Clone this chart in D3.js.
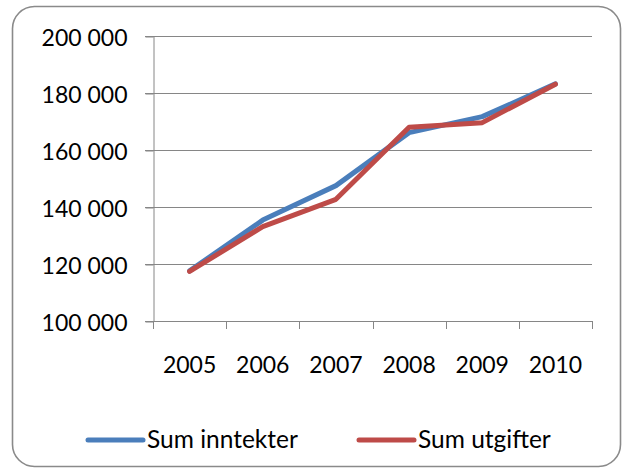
<!DOCTYPE html>
<html>
<head>
<meta charset="utf-8">
<script src="https://cdn.jsdelivr.net/npm/d3@7"></script>
<style>
  html, body { margin: 0; padding: 0; background: #fff; }
  svg { display: block; font-family: Lato, "Open Sans", sans-serif; }
</style>
</head>
<body>
<script>
const [w, h] = [627, 468];

// data
const years = ['2005', '2006', '2007', '2008', '2009', '2010'];
const inntekter = [117600, 135400, 147500, 166100, 171700, 183200];
const utgifter = [117400, 133100, 142700, 168000, 169600, 183100];
const yTicks = [100000, 120000, 140000, 160000, 180000, 200000];
const seriesNames = ['Sum inntekter', 'Sum utgifter'];
const seriesColors = ['#4a7ebb', '#be4b48'];

const plot = { left: 153, right: 592, top: 36, bottom: 321 };
const gridColor = '#868686';

const svg = d3.select('body').append('svg')
  .attr('width', w)
  .attr('height', h);

// chart frame
svg.append('rect')
  .attr('x', 12.5).attr('y', 6.5)
  .attr('width', 608).attr('height', 460)
  .attr('rx', 22).attr('ry', 22)
  .attr('fill', 'white')
  .attr('stroke', '#8a8a8a')
  .attr('stroke-width', 1.6);

const x = d3.scaleBand().domain(years).range([plot.left, plot.right]);
const y = d3.scaleLinear().domain([100000, 200000]).range([plot.bottom, plot.top]);

const fmt = d3.formatLocale({ decimal: ',', thousands: ' ', grouping: [3], currency: ['', ''] }).format(',d');

// horizontal gridlines
svg.append('g').selectAll('line')
  .data(yTicks)
  .enter().append('line')
  .attr('x1', plot.left - 8).attr('x2', plot.right)
  .attr('y1', d => Math.round(y(d)) + 0.5).attr('y2', d => Math.round(y(d)) + 0.5)
  .attr('stroke', gridColor).attr('stroke-width', 1);

// y axis
const yAxis = svg.append('g')
  .attr('transform', `translate(${plot.left + 0.5},0.5)`)
  .call(d3.axisLeft(y).tickValues(yTicks).tickFormat(fmt).tickSize(8).tickSizeOuter(0).tickPadding(18));
yAxis.select('.domain').attr('stroke', gridColor);
yAxis.selectAll('.tick line').attr('stroke', gridColor);
yAxis.selectAll('text')
  .attr('font-size', 23)
  .attr('fill', '#000')
  .attr('dy', '0.38em')
  .style('font-family', 'Lato, sans-serif');

// x axis: ticks sit between the categories
const xEdges = years.map(d => x(d)).concat([x.range()[1]]);
const xAxis = svg.append('g')
  .attr('transform', `translate(0,${plot.bottom + 0.5})`)
  .call(d3.axisBottom(x).tickSize(0).tickPadding(0));
xAxis.select('.domain').remove();
xAxis.selectAll('text')
  .attr('font-size', 23)
  .attr('fill', '#000')
  .attr('y', 51)
  .attr('dy', 0)
  .style('font-family', 'Lato, sans-serif');
svg.append('g').selectAll('line')
  .data(xEdges)
  .enter().append('line')
  .attr('x1', d => Math.round(d) + 0.5).attr('x2', d => Math.round(d) + 0.5)
  .attr('y1', plot.bottom).attr('y2', plot.bottom + 8)
  .attr('stroke', gridColor);
svg.append('line')
  .attr('x1', plot.left - 8).attr('x2', plot.right)
  .attr('y1', plot.bottom + 0.5).attr('y2', plot.bottom + 0.5)
  .attr('stroke', gridColor);

// lines
const line = d3.line()
  .x((d, i) => x(years[i]) + x.bandwidth() / 2)
  .y(d => y(d));

[inntekter, utgifter].forEach((series, i) => {
  svg.append('path')
    .datum(series)
    .attr('d', line)
    .attr('fill', 'none')
    .attr('stroke', seriesColors[i])
    .attr('stroke-width', 5)
    .attr('stroke-linecap', 'round')
    .attr('stroke-linejoin', 'round');
});

// legend
const legendX = [88, 359];
const legend = svg.append('g').selectAll('g')
  .data(seriesNames)
  .enter().append('g')
  .attr('transform', (d, i) => `translate(${legendX[i]},440)`);
legend.append('line')
  .attr('x1', 0).attr('x2', 55)
  .attr('stroke', (d, i) => seriesColors[i])
  .attr('stroke-width', 5)
  .attr('stroke-linecap', 'round');
legend.append('text')
  .attr('x', 59)
  .attr('y', 8)
  .attr('font-size', 24.5)
  .text(d => d);
</script>
</body>
</html>
